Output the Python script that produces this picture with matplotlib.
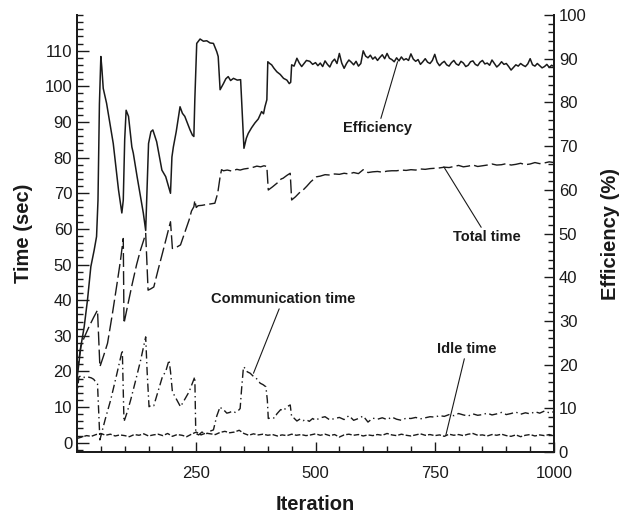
import numpy as np
import matplotlib
matplotlib.use("Agg")
import matplotlib.pyplot as plt
from matplotlib.ticker import MultipleLocator

plt.rcParams['font.family'] = ['Liberation Sans', 'DejaVu Sans']

# efficiency (%), right axis
eff_iter = [0, 4, 8, 15, 22, 29, 36, 41, 44, 47, 50, 52, 55, 62, 69, 76, 83, 87, 94, 97,
            100, 103, 108, 115, 118, 126, 132, 139, 144, 146, 150, 155, 159, 167, 178, 186,
            196, 199, 202, 208, 216, 221, 226, 232, 237, 242, 245, 247, 251, 258, 265, 272,
            279, 286, 293, 296, 300, 307, 312, 317, 322, 328, 336, 343, 345, 350, 355, 359,
            366, 373, 380, 387, 391, 394, 398, 400, 404, 408, 413, 419, 426, 433, 440, 445,
            448, 450, 455, 461, 466, 471, 476, 481, 488, 494, 500]
eff_pct = [16.8, 20.3, 24.1, 28.6, 34.8, 42.4, 46.2, 49.3, 57.6, 79.6, 90.5, 88.0, 83.2, 79.8,
           75.2, 70.6, 63.8, 60.0, 54.7, 57.6, 71.5, 78.2, 76.8, 69.8, 68.4, 63.0, 59.2, 54.7,
           50.7, 57.6, 70.6, 73.3, 73.7, 71.0, 64.5, 63.0, 59.2, 67.5, 69.8, 73.3, 79.0, 77.5,
           76.8, 75.1, 73.7, 72.5, 72.2, 80.6, 93.5, 94.5, 94.0, 94.1, 93.6, 93.5, 91.6, 90.5,
           82.9, 84.3, 85.4, 85.9, 85.0, 85.5, 85.1, 85.2, 80.6, 69.5, 71.8, 72.9, 74.2, 75.3,
           76.2, 77.9, 77.4, 79.0, 80.6, 89.3, 88.9, 88.6, 87.8, 87.0, 86.4, 85.5, 85.1, 84.3,
           84.6, 88.6, 88.3, 90.1, 89.0, 88.2, 88.9, 89.6, 89.4, 88.7, 89.1]
eff_late_iter = np.arange(505, 1001, 5)
eff_late = [88.4, 89.0, 88.2, 89.5, 88.7, 88.1, 89.3, 89.9, 88.9, 91.2, 89.0, 87.8, 88.9, 89.7,
            89.2, 88.6, 89.4, 88.3, 88.9, 91.8, 90.6, 90.2, 90.8, 89.9, 90.4, 89.6, 90.3, 90.9,
            90.0, 91.2, 90.1, 89.8, 89.3, 90.2, 89.5, 90.4, 89.7, 90.0, 89.6, 91.1, 89.9, 89.4,
            89.8, 88.7, 89.3, 90.0, 89.2, 88.9, 89.6, 91.0, 89.2, 88.4, 89.0, 89.4, 88.6, 88.3,
            89.1, 89.6, 88.8, 88.5, 89.4, 89.0, 88.2, 88.5, 89.3, 89.5, 88.7, 88.4, 89.2, 89.6,
            88.8, 89.0, 88.5, 89.7, 88.9, 88.1, 88.6, 89.3, 88.7, 88.9, 88.2, 87.4, 88.0, 88.6,
            88.3, 88.9, 88.5, 88.2, 88.8, 90.0, 88.6, 88.3, 88.9, 88.4, 87.9, 88.2, 88.7, 88.0,
            88.5, 88.2]

# total time (sec)
tot_iter = [0, 4, 8, 15, 25, 35, 43, 48, 56, 64, 74, 84, 91, 97, 98.5, 107, 116, 125, 133, 139,
            144, 149, 155, 161, 170, 179, 188, 196, 200, 208, 217, 226, 235, 240, 245, 247, 250,
            254, 262, 270, 280, 289, 295, 300, 303, 307, 315, 325, 335, 342, 350, 360, 370, 377,
            385, 392, 398, 401, 410, 420, 428, 432, 440, 447, 450, 458, 466, 474, 482, 490, 496,
            502]
tot_sec = [19, 23.5, 27, 29.5, 32.5, 35.2, 37.2, 21.3, 24.5, 27.9, 36, 44.7, 51, 57.3, 33.5, 39,
           44.7, 50, 54, 56.5, 58.7, 42.8, 43.2, 43.7, 48.5, 53.1, 57.8, 62, 54.5, 54.8, 55.5, 59,
           62.5, 65, 66.2, 68, 66, 66.5, 66.6, 66.8, 67, 67.2, 70, 74.6, 76.6, 76.3, 76.5, 76.2,
           76.7, 76.5, 76.8, 77.0, 77.3, 77.6, 77.4, 77.7, 77.5, 70.9, 71.8, 72.9, 74.0, 74.2,
           75.0, 75.6, 68.1, 69, 70.1, 70.9, 72, 73.2, 73.9, 74.6]
late_iter = np.arange(510, 1001, 10)
tot_late = [74.8, 75.2, 75.1, 75.4, 75.3, 75.6, 75.4, 75.8, 75.5, 76.6, 75.8, 76.0, 76.1, 75.9,
            76.2, 76.3, 76.3, 76.5, 76.4, 76.6, 76.5, 76.8, 76.7, 76.9, 77.0, 77.1, 77.3, 77.2,
            77.5, 77.8, 77.4, 77.6, 77.9, 77.5, 77.7, 77.9, 78.2, 77.9, 78.0, 78.3, 77.9, 78.1,
            78.4, 78.0, 78.2, 78.6, 78.3, 78.5, 78.8, 78.6]

# communication time (sec)
com_iter = [0, 2, 4, 10, 16, 21.6, 30, 35, 39, 43, 45, 48, 59, 70.6, 83, 95, 97, 98.5, 105,
            112.5, 123, 133.5, 144, 147, 151, 156, 161, 170, 179, 186, 193, 196, 200, 208, 217,
            226, 235, 241, 247, 249, 255, 262, 270, 278, 286, 293, 300, 305, 310, 314, 320, 326,
            332, 338, 342, 345, 349, 353, 357, 363, 370, 377, 384, 390, 396, 399, 401, 408, 414,
            419, 427, 433, 440, 447, 450, 455, 461, 468, 474, 480, 487, 494, 500]
com_sec = [12, 16, 18.5, 18.8, 18.3, 18.5, 18.2, 17.8, 17.1, 16.5, 10, 0.8, 6.5, 12, 19, 26, 15,
           5.9, 8.5, 12, 17.5, 23.2, 29.7, 20, 10.1, 10.6, 10.4, 14.5, 18.5, 20, 23.2, 20, 14.3,
           12.3, 10.1, 12.2, 14.3, 16.4, 18.5, 2.6, 2.2, 3.0, 2.4, 3.2, 3.6, 7.5, 10.1, 9.2, 8.9,
           8.3, 8.5, 8.9, 8.5, 9.0, 9.6, 15, 21.3, 20.8, 19.9, 19.5, 18.6, 17.9, 16.7, 16.3, 15.7,
           12, 6.8, 7.1, 6.9, 8.1, 9.3, 9.0, 10.1, 10.6, 7.3, 6.9, 6.1, 6.7, 6.2, 6.5, 6.0, 6.8,
           6.3]
com_late = [7.0, 7.3, 6.4, 6.8, 7.1, 6.5, 7.6, 6.3, 6.8, 7.5, 5.8, 6.9, 6.6, 7.0, 6.5, 7.2, 6.6,
            6.3, 6.9, 6.8, 7.1, 6.7, 7.0, 7.3, 7.2, 7.6, 7.4, 7.9, 7.6, 8.2, 7.8, 7.5, 8.1, 7.7,
            7.9, 8.3, 7.8, 8.1, 8.5, 7.9, 8.2, 8.6, 8.0, 8.4, 8.1, 8.7, 8.3, 8.9, 8.4, 8.7]

# idle time (sec)
idle_iter = np.arange(0, 1001, 10)
idle_sec = [1.2, 1.6, 2.0, 1.8, 2.3, 2.6, 2.1, 2.4, 1.9, 2.2, 2.0, 1.7, 2.3, 2.1, 2.5, 1.9, 2.2,
            2.4, 2.0, 2.6, 1.8, 2.3, 2.1, 1.7, 2.4, 3.0, 2.2, 2.7, 2.5, 2.3, 2.9, 3.2, 2.8, 3.0,
            3.5, 2.6, 2.1, 2.5, 2.2, 2.4, 2.1, 2.3, 1.9, 2.2, 2.0, 2.4, 2.1, 2.3, 2.0, 2.2, 2.5,
            2.1, 2.4, 2.0, 2.3, 1.6, 2.2, 2.4, 2.1, 2.3, 1.9, 2.2, 2.0, 2.3, 2.1, 2.6, 2.2, 2.0,
            2.4, 2.1, 1.9, 2.2, 2.5, 2.1, 2.3, 2.0, 2.2, 1.8, 2.4, 2.1, 2.3, 2.0, 2.4, 2.6, 2.1,
            2.2, 1.9, 2.3, 2.1, 2.4, 2.0, 1.8, 2.2, 1.7, 2.1, 2.3, 1.9, 2.2, 2.0, 2.3, 1.9]

ink = '#1a1a1a'

fig = plt.figure(figsize=(6.26, 5.15), dpi=100)
ax = fig.add_axes([0.123, 0.1223, 0.762, 0.8486])
ax2 = ax.twinx()

ax.plot(list(tot_iter) + list(late_iter), tot_sec + tot_late, color=ink, lw=1.0,
        dashes=[10, 3])
ax.plot(list(com_iter) + list(late_iter), com_sec + com_late, color=ink, lw=1.0,
        dashes=[6, 2.5, 1, 2.5])
ax.plot(idle_iter, idle_sec, color=ink, lw=1.0, dashes=[4, 1.5])
ax2.plot(list(eff_iter) + list(eff_late_iter), eff_pct + eff_late, color=ink, lw=1.1)

ax.set_xlim(0, 1000)
ax.set_ylim(-2.6, 120)
ax2.set_ylim(0, 100)

ax.set_xticks([250, 500, 750, 1000])
ax.xaxis.set_minor_locator(MultipleLocator(50))
ax.set_yticks(range(0, 111, 10))
ax.yaxis.set_minor_locator(MultipleLocator(2))
ax2.set_yticks(range(0, 101, 10))
ax2.yaxis.set_minor_locator(MultipleLocator(2))

for a in (ax, ax2):
    a.spines['top'].set_visible(False)
    for s in a.spines.values():
        s.set_linewidth(1.3)
        s.set_color(ink)
    a.tick_params(which='both', direction='in', colors=ink, labelsize=12, width=1.0)
    a.tick_params(which='major', length=7.5)
    a.tick_params(which='minor', length=4.3)
ax.tick_params(axis='y', which='major', length=8.5)
ax.tick_params(axis='x', which='both', top=False)
ax.tick_params(axis='y', which='both', right=False)
ax.tick_params(axis='x', pad=10)

ax.set_xlabel('Iteration', fontsize=14.5, fontweight='bold', color=ink, labelpad=10)
ax.set_ylabel('Time (sec)', fontsize=14.5, fontweight='bold', color=ink, labelpad=8)
ax2.set_ylabel('Efficiency (%)', fontsize=14.5, fontweight='bold', color=ink, labelpad=10)

line = dict(arrowstyle='-', color=ink, lw=0.8, shrinkA=0, shrinkB=0)
font = dict(fontsize=10.5, fontweight='bold', color=ink, ha='center', va='center')
ax2.annotate('Efficiency', xy=(672, 89.3), xytext=(631, 74.1), arrowprops=line, **font)
ax.annotate('Total time', xy=(769, 77.4), xytext=(860, 57.7), arrowprops=line, **font)
ax.annotate('Communication time', xy=(370, 19.5), xytext=(432, 40.3), arrowprops=line, **font)
ax.annotate('Idle time', xy=(773, 2.0), xytext=(817, 26.3), arrowprops=line, **font)

fig.savefig('out.png', dpi=100)
